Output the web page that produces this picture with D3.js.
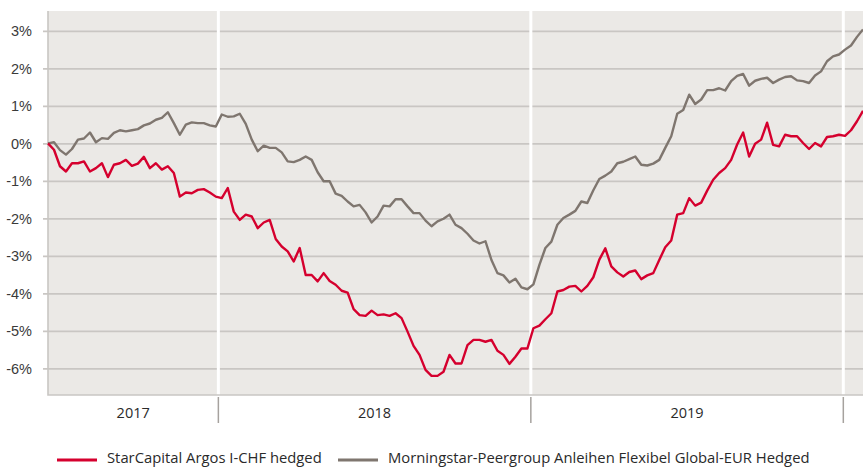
<!DOCTYPE html>
<html>
<head>
<meta charset="utf-8">
<script src="https://cdn.jsdelivr.net/npm/d3@7"></script>
<style>
  html, body { margin: 0; padding: 0; background: #fff; }
  svg { display: block; font-family: "Open Sans", "Noto Sans", sans-serif; }
</style>
</head>
<body>
<svg id="chart" width="863" height="467"></svg>
<script>
// weekly closes (Fridays), performance in % since start
const startDate = "2017-06-16";
const yearLabels = ["2017", "2018", "2019"];
const yearBreaks = ["2018-01-01", "2019-01-01", "2020-01-01"];
const yTicks = [3, 2, 1, 0, -1, -2, -3, -4, -5, -6];

const seriesNames = [
  "StarCapital Argos I-CHF hedged",
  "Morningstar-Peergroup Anleihen Flexibel Global-EUR Hedged",
];

const argos = [
  0.00, -0.17, -0.61, -0.75, -0.53, -0.53, -0.48, -0.75, -0.66, -0.53,
  -0.90, -0.57, -0.53, -0.44, -0.60, -0.54, -0.36, -0.66, -0.53, -0.70,
  -0.61, -0.79, -1.42, -1.31, -1.33, -1.24, -1.22, -1.31, -1.42, -1.46,
  -1.19, -1.82, -2.04, -1.90, -1.95, -2.26, -2.11, -2.04, -2.55, -2.75,
  -2.88, -3.15, -2.79, -3.51, -3.51, -3.68, -3.46, -3.67, -3.77, -3.93,
  -3.98, -4.42, -4.58, -4.60, -4.46, -4.58, -4.56, -4.60, -4.53, -4.66,
  -5.02, -5.40, -5.64, -6.04, -6.20, -6.20, -6.09, -5.64, -5.87, -5.87,
  -5.38, -5.24, -5.24, -5.29, -5.24, -5.53, -5.64, -5.88, -5.69, -5.47,
  -5.47, -4.93, -4.86, -4.69, -4.53, -3.95, -3.91, -3.82, -3.80, -3.95,
  -3.80, -3.57, -3.10, -2.80, -3.28, -3.44, -3.55, -3.43, -3.39, -3.62,
  -3.52, -3.46, -3.11, -2.77, -2.59, -1.90, -1.86, -1.46, -1.66, -1.58,
  -1.26, -0.97, -0.79, -0.66, -0.44, -0.03, 0.29, -0.35, -0.01, 0.10,
  0.55, -0.04, -0.08, 0.23, 0.19, 0.19, 0.01, -0.15, 0.01, -0.08,
  0.17, 0.19, 0.23, 0.20, 0.35, 0.59, 0.87,
];

const peergroup = [
  0.00, 0.03, -0.18, -0.30, -0.15, 0.10, 0.13, 0.29, 0.03, 0.14,
  0.12, 0.28, 0.35, 0.32, 0.35, 0.38, 0.48, 0.53, 0.63, 0.68,
  0.83, 0.54, 0.23, 0.50, 0.56, 0.54, 0.54, 0.48, 0.45, 0.77,
  0.71, 0.72, 0.79, 0.52, 0.10, -0.21, -0.06, -0.12, -0.12, -0.24,
  -0.48, -0.50, -0.44, -0.35, -0.44, -0.77, -1.01, -1.01, -1.34, -1.40,
  -1.55, -1.68, -1.64, -1.84, -2.11, -1.95, -1.66, -1.68, -1.49, -1.49,
  -1.68, -1.86, -1.86, -2.06, -2.21, -2.08, -2.01, -1.90, -2.17, -2.26,
  -2.41, -2.59, -2.67, -2.61, -3.11, -3.46, -3.52, -3.71, -3.61, -3.84,
  -3.89, -3.76, -3.24, -2.79, -2.62, -2.17, -1.99, -1.90, -1.80, -1.55,
  -1.59, -1.25, -0.95, -0.86, -0.75, -0.53, -0.49, -0.42, -0.35, -0.57,
  -0.59, -0.54, -0.44, -0.12, 0.19, 0.79, 0.89, 1.30, 1.05, 1.17,
  1.42, 1.42, 1.47, 1.41, 1.66, 1.80, 1.85, 1.54, 1.67, 1.72,
  1.75, 1.61, 1.70, 1.77, 1.79, 1.68, 1.66, 1.61, 1.81, 1.92,
  2.19, 2.32, 2.37, 2.50, 2.61, 2.84, 3.04,
];

const colors = ["#d5002e", "#7f766f"];

const parse = d3.timeParse("%Y-%m-%d");
const start = parse(startDate);
const dates = argos.map((_, i) => d3.timeDay.offset(start, 7 * i));

const svg = d3.select("#chart");
const plot = { left: 48, right: 863, top: 11, bottom: 395 };

const x = d3
  .scaleTime()
  .domain([start, dates[dates.length - 1]])
  .range([plot.left, plot.right]);

const y = d3
  .scaleLinear()
  .domain([-6.71, 3.53])
  .range([plot.bottom, plot.top]);

// Hintergrund
svg
  .append("rect")
  .attr("x", plot.left)
  .attr("y", plot.top)
  .attr("width", plot.right - plot.left)
  .attr("height", plot.bottom - plot.top)
  .attr("fill", "#ebe9e6");

// horizontale Linien + Beschriftung
const yAxis = d3
  .axisLeft(y)
  .tickValues(yTicks)
  .tickSize(plot.right - plot.left + 5)
  .tickFormat((d) => d + "%");

const gy = svg
  .append("g")
  .attr("transform", `translate(${plot.right},0)`)
  .call(yAxis);
gy.select(".domain").remove();
gy.selectAll(".tick line").attr("stroke", "#c9c6c3").attr("stroke-width", 1.6);
gy.selectAll(".tick text")
  .attr("x", -(plot.right - 32))
  .attr("dy", "0.35em")
  .attr("fill", "#3a3a3a")
  .style("font-size", "14.5px");

// Jahreswechsel
const breaks = yearBreaks.map(parse);
svg
  .append("g")
  .selectAll("line")
  .data(breaks)
  .join("line")
  .attr("x1", (d) => x(d))
  .attr("x2", (d) => x(d))
  .attr("y1", plot.top)
  .attr("y2", plot.bottom)
  .attr("stroke", "#fff")
  .attr("stroke-width", 3);

// Rahmen links/unten
svg
  .append("path")
  .attr("d", `M${plot.left},${plot.top}V${plot.bottom}H${plot.right}`)
  .attr("fill", "none")
  .attr("stroke", "#c9c6c3")
  .attr("stroke-width", 1.6);

// Trenner unter der Achse
svg
  .append("g")
  .selectAll("line")
  .data(breaks)
  .join("line")
  .attr("x1", (d) => x(d))
  .attr("x2", (d) => x(d))
  .attr("y1", plot.bottom + 2)
  .attr("y2", plot.bottom + 28)
  .attr("stroke", "#a6a29e")
  .attr("stroke-width", 1.5);

const yearEdges = [start, ...breaks];
svg
  .append("g")
  .selectAll("text")
  .data(yearLabels)
  .join("text")
  .attr("x", (d, i) => (x(yearEdges[i]) + x(yearEdges[i + 1])) / 2)
  .attr("y", 418)
  .attr("text-anchor", "middle")
  .attr("fill", "#2a2a2a")
  .style("font-size", "14.5px")
  .text((d) => d);

// Linien
const line = d3
  .line()
  .x((d, i) => x(dates[i]))
  .y((d) => y(d));

[peergroup, argos].forEach((s, j) => {
  svg
    .append("path")
    .datum(s)
    .attr("fill", "none")
    .attr("stroke", colors[1 - j])
    .attr("stroke-width", 2.4)
    .attr("stroke-linejoin", "round")
    .attr("d", line);
});

// Legende
const legendX = [57, 338];
const legend = svg
  .append("g")
  .selectAll("g")
  .data(seriesNames)
  .join("g")
  .attr("transform", (d, i) => `translate(${legendX[i]},460)`);

legend
  .append("line")
  .attr("x1", 0)
  .attr("x2", 40)
  .attr("stroke", (d, i) => colors[i])
  .attr("stroke-width", 3);

legend
  .append("text")
  .attr("x", 50)
  .attr("y", 3)
  .attr("fill", "#2a2a2a")
  .style("font-size", "14.8px")
  .text((d) => d);
</script>
</body>
</html>
